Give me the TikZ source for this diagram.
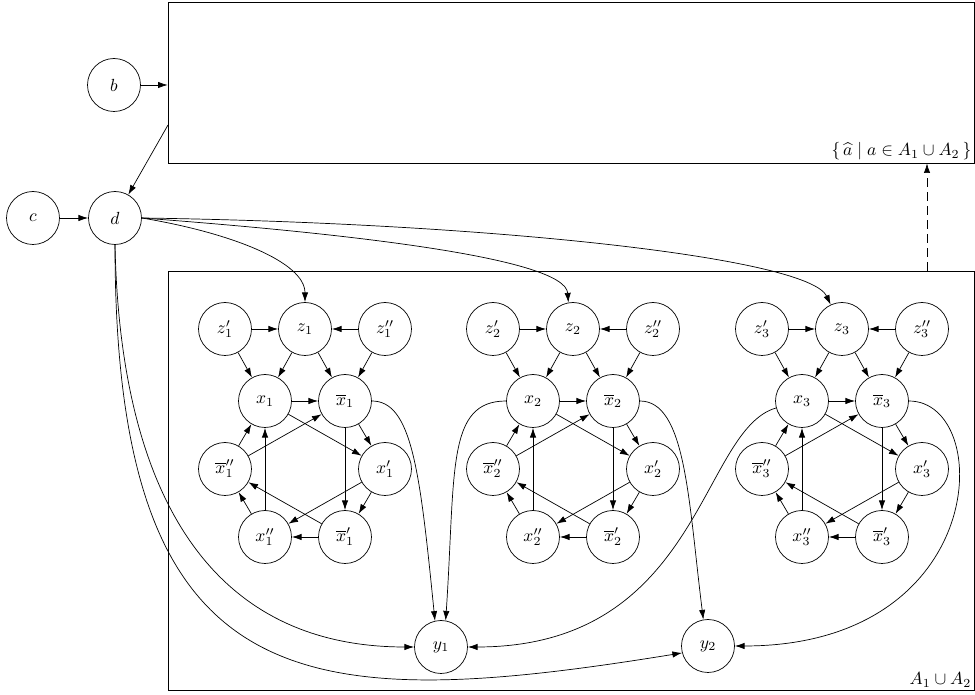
\documentclass[tikz,border=0pt]{standalone}
\usepackage{tikz}
\usetikzlibrary{arrows.meta,calc}
\tikzstyle{vertex} = [circle, draw, minimum size=1.06cm, inner sep=0pt]
\tikzstyle{region} = [draw, rectangle, inner sep=0pt]
\tikzstyle{corner} = [anchor=south east, inner sep=1.5pt]

\begin{document}
\begin{tikzpicture}
    [x=0.02cm,y=-0.02cm,>={Latex[length=5.5pt,width=3.6pt]}]
      \useasboundingbox (0,0) rectangle (975,695);
      % the two regions
      \node [region, minimum width=16.12cm, minimum height=3.22cm](top) at (571,82.5) {};
      \node [region, minimum width=16.12cm, minimum height=8.38cm](bot) at (571,480.5) {};
      \node [corner](hatl) at (top.south east) {$\{\,\widehat{a} \;|\; a \in A_1 \cup A_2\,\}$};
      \node [corner](botl) at (bot.south east) {$A_1 \cup A_2$};
      % outer vertices
      \node [vertex](b) at (114,85) {$b$};
      \node [vertex](c) at (33,218) {$c$};
      \node [vertex](d) at (115,218) {$d$};
      \node [vertex](y1) at (441,647) {$y_1$};
      \node [vertex](y2) at (708,646) {$y_2$};
      \coordinate (tl) at (168,125);
      \coordinate (up) at (927,271);

      % one gadget per variable
      \foreach \i/\g in {1/225,2/493,3/762} {
        \node [vertex](zp\i) at (\g,329) {$z'_\i$};
        \node [vertex](z\i) at ({\g+80},329) {$z_\i$};
        \node [vertex](zpp\i) at ({\g+160},329) {$z''_\i$};
        \node [vertex](x\i) at ({\g+40},401) {$x_\i$};
        \node [vertex](xb\i) at ({\g+120},401) {$\overline{x}_\i$};
        \node [vertex](xbpp\i) at (\g,469) {$\overline{x}''_\i$};
        \node [vertex](xp\i) at ({\g+160},469) {$x'_\i$};
        \node [vertex](xpp\i) at ({\g+40},537) {$x''_\i$};
        \node [vertex](xbp\i) at ({\g+120},537) {$\overline{x}'_\i$};
        \foreach \from/\to in {zp/z,zpp/z,zp/x,z/x,z/xb,zpp/xb,x/xb,xb/xp,xp/xbp,xbp/xpp,xpp/xbpp,xbpp/x,
                               x/xp,xb/xbp,xp/xpp,xbp/xbpp,xpp/x,xbpp/xb}
          \draw [->] (\from\i) -- (\to\i);
      }

      \draw [->] (c) -- (d);
      \draw [->] (b) -- (b -| top.west);
      \draw [->] (tl) -- (d);
      \draw [->, dash pattern=on 5pt off 3pt] (up) -- (up |- top.south);

      % d into the gadgets and the y's
      \draw [->] (d.east) .. controls +(90,15) and +(0,-40) .. (z1.north);
      \draw [->] (d.east) .. controls +(200,15) and +(-3,-45) .. (z2.100);
      \draw [->] (d.east) .. controls +(350,5) and +(-22,-47) .. (z3.115);
      \draw [->] (d.south) .. controls +(5,240) and +(-210,0) .. (y1.west);
      \draw [->] (d.south) .. controls +(0,455) and +(-382,62) .. (y2.195);

      % literals into the y's
      \draw [->] (xb1.east) .. controls +(40,0) and +(-15,-150) .. (y1.103);
      \draw [->] (x2.west) .. controls +(-60,0) and +(10,-150) .. (y1.80);
      \draw [->] (xb2.east) .. controls +(46,0) and +(-15,-120) .. (y2.100);
      \draw [->] (x3.195) .. controls +(-76,22) and +(233,0) .. (y1.east);
      \draw [->] (xb3.east) .. controls +(86,0) and +(256,0) .. (y2.east);

    \end{tikzpicture}
\end{document}
